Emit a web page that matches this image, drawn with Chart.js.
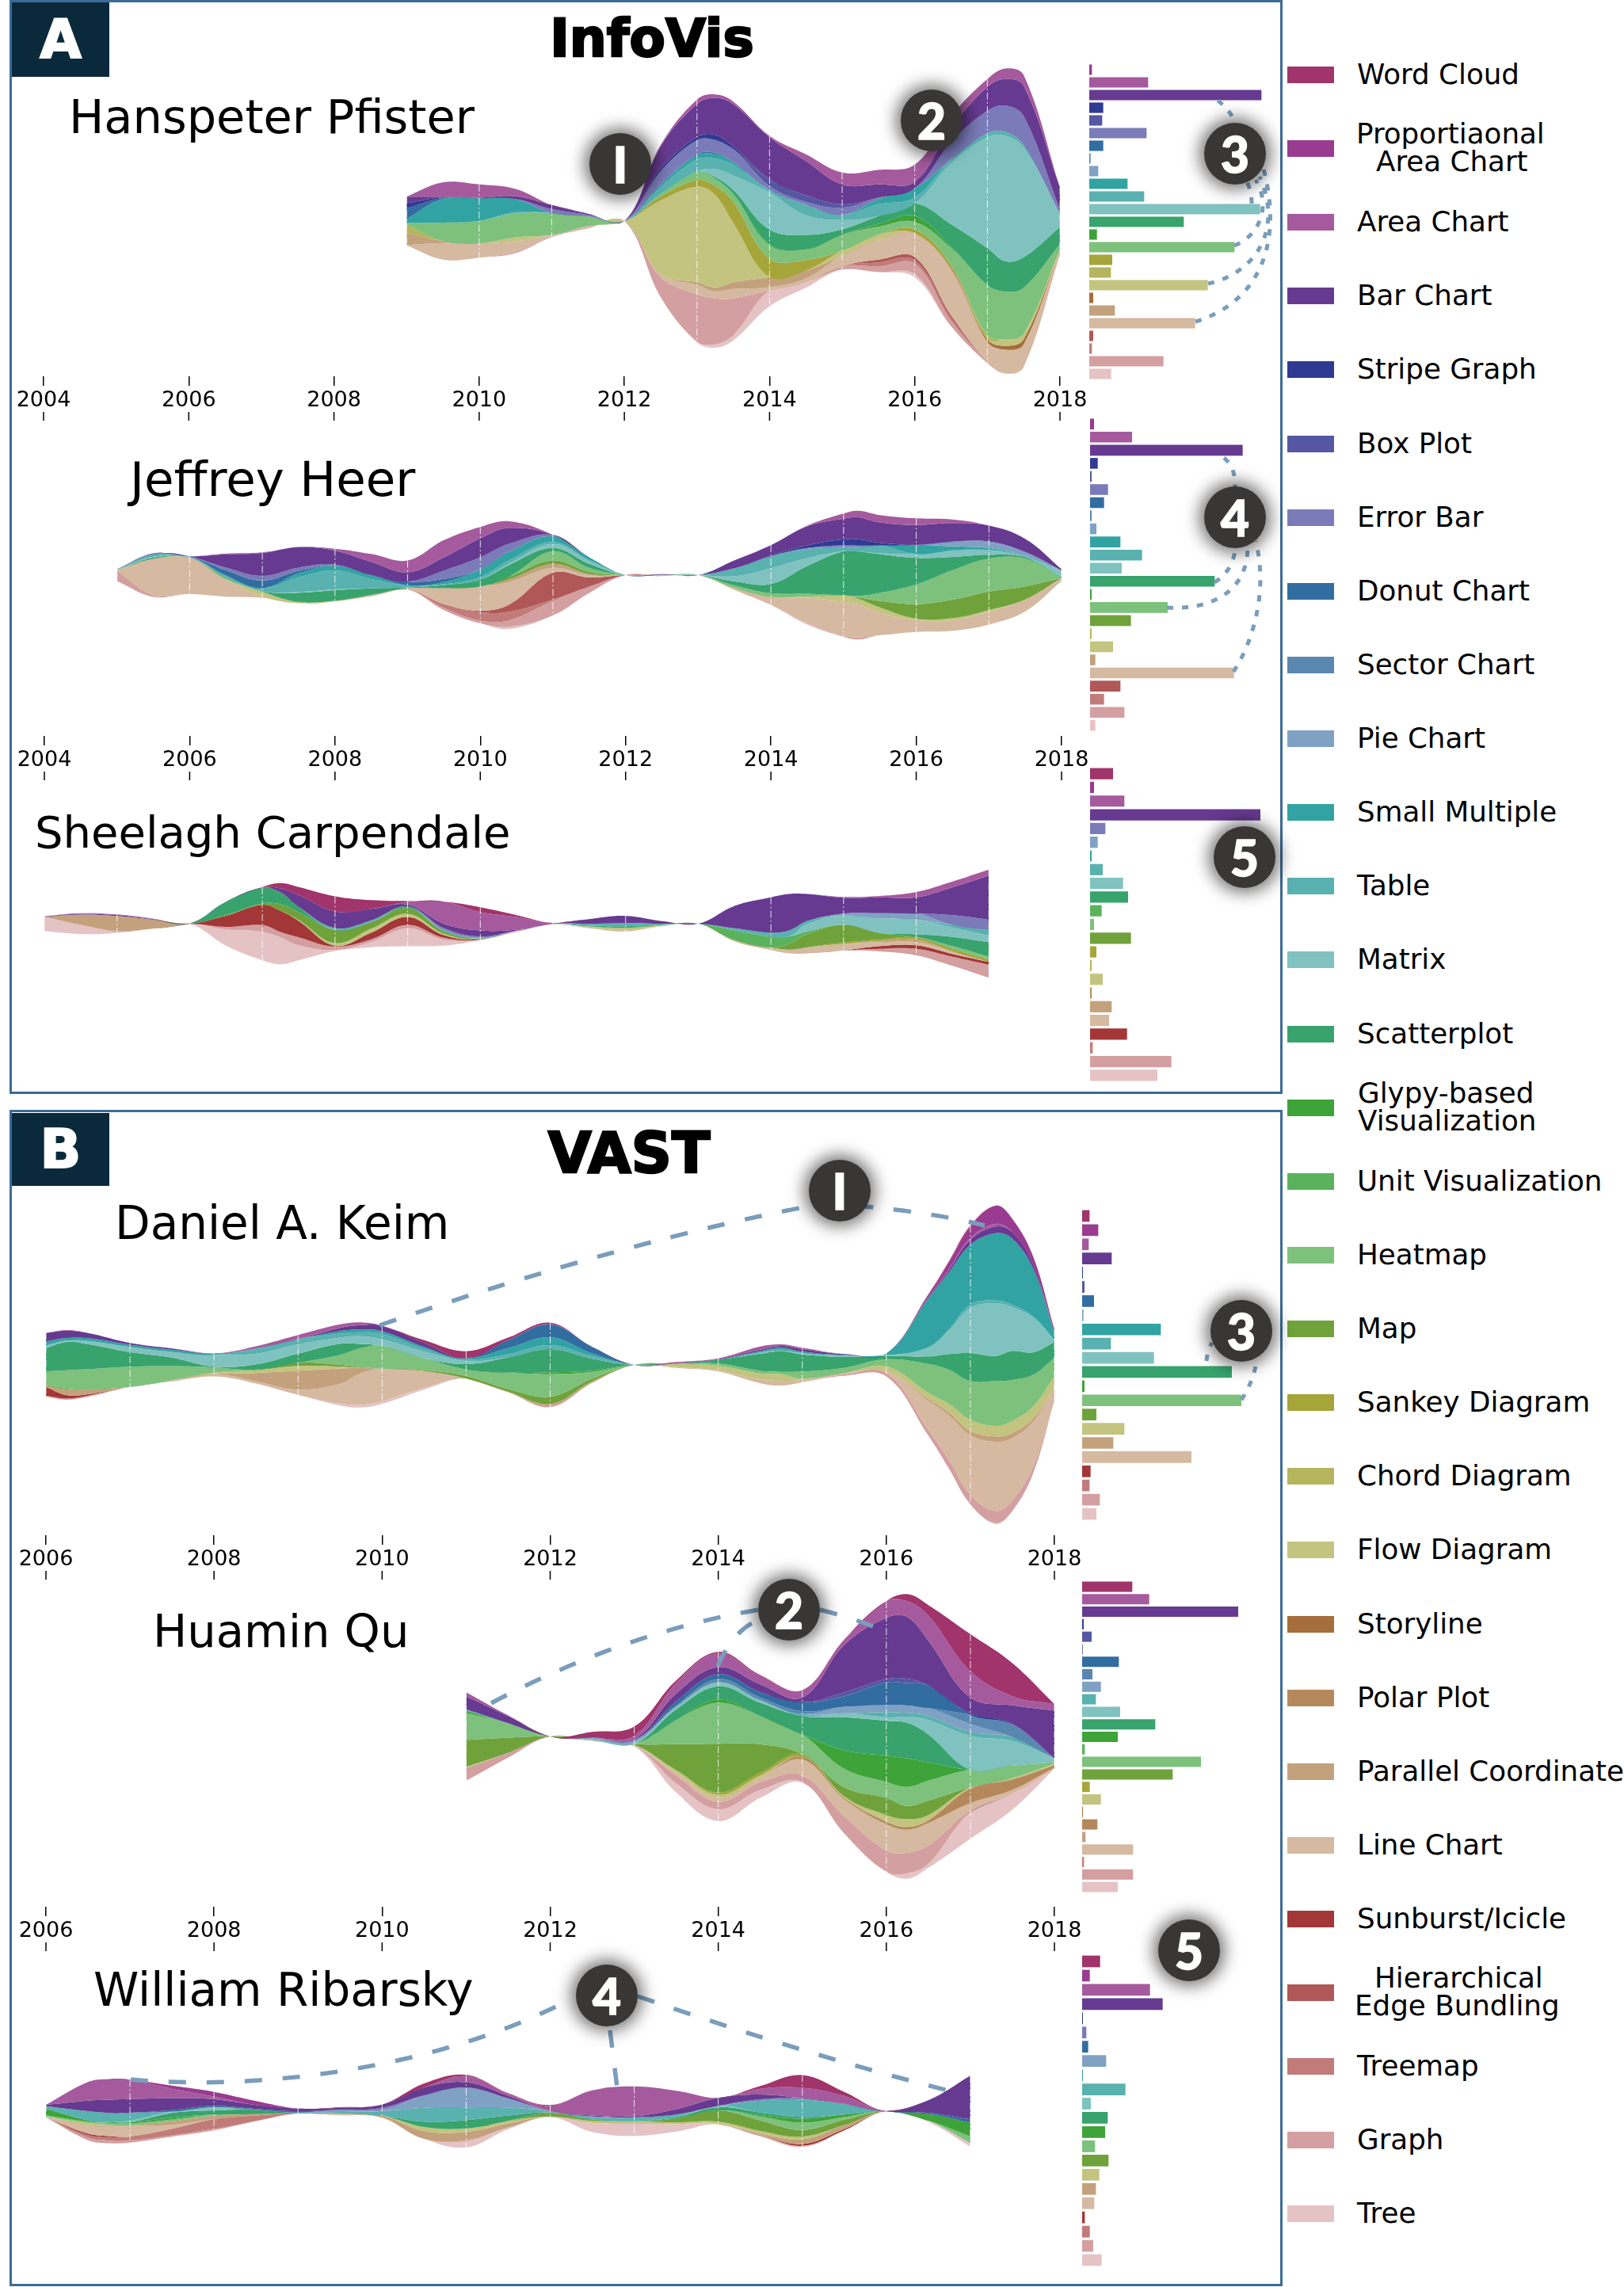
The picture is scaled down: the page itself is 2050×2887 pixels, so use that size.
<!DOCTYPE html>
<html>
<head>
<meta charset="utf-8">
<title>InfoVis / VAST</title>
<script src="https://cdn.jsdelivr.net/npm/chart.js@4"></script>
<style>
html,body{margin:0;padding:0;background:#fff}
#page{position:relative;width:2050px;height:2887px;overflow:hidden;font-family:"DejaVu Sans",sans-serif;color:#000}
#page canvas{position:absolute}
.frame{position:absolute;left:12px;width:1601px;border:3px solid #3b6c98;box-sizing:content-box}
.tag{position:absolute;left:15px;width:123px;background:#0a2a3c;color:#fff;font:bold 68px "DejaVu Sans",sans-serif;-webkit-text-stroke:2px #fff;text-align:center}
.title{position:absolute;font:bold 66px "DejaVu Sans",sans-serif;-webkit-text-stroke:2.5px #000;transform:translate(-50%,-50%);white-space:nowrap}
.name{position:absolute;transform:translateY(-50%);white-space:nowrap}
.badge{position:absolute;width:78px;height:78px;margin:-39px 0 0 -39px;border-radius:50%;background:#383735;color:#fff;
  font:900 62px/78px Lato,sans-serif;-webkit-text-stroke:1.5px #fff;text-align:center;box-shadow:0 0 20px 6px rgba(0,0,0,.55)}
.swatch{position:absolute;left:1625px;width:59px;height:21px;margin-top:-10px}
.label{position:absolute;font-size:35.7px;line-height:35px;white-space:nowrap;transform:translateY(-50%)}
svg{position:absolute;left:0;top:0}
</style>
</head>
<body>
<div id="page"></div>
<script>
const categories = ['Word Cloud','Proportiaonal\nArea Chart','Area Chart','Bar Chart','Stripe Graph','Box Plot','Error Bar','Donut Chart','Sector Chart','Pie Chart','Small Multiple','Table','Matrix','Scatterplot','Glypy-based\nVisualization','Unit Visualization','Heatmap','Map','Sankey Diagram','Chord Diagram','Flow Diagram','Storyline','Polar Plot','Parallel Coordinate','Line Chart','Sunburst/Icicle','Hierarchical\nEdge Bundling','Treemap','Graph','Tree'];
const layerColors = ['#a0346b','#993b90','#a55a9e','#663a90','#2f3a93','#5557a3','#7a7bb8','#326da1','#5a87b0','#7fa1c4','#32a3a3','#59b1b0','#7fc2bf','#38a36c','#3ea338','#5ab35c','#7dc17c','#70a23b','#a5a53a','#b4b55c','#c3c47f','#a56e3a','#b5885c','#c4a17d','#d5b9a0','#a33636','#b05857','#c17b79','#d49fa0','#e5c3c5'];
const tickYears = [2004,2006,2008,2010,2012,2014,2016,2018];

// bar lengths, same order as categories
const pfisterBars = [0,10,223,652,53,49,217,53,5,34,145,208,647,358,29,0,550,0,87,82,449,15,0,97,401,0,15,10,281,83];
const heerBars = [0,15,159,578,29,6,68,53,6,24,115,197,120,472,6,0,294,155,0,6,87,0,0,20,545,0,115,53,130,20];
const carpendaleBars = [87,15,130,645,0,0,58,0,0,29,6,48,125,144,0,44,15,155,24,6,48,0,6,82,72,140,0,10,308,255];
const keimBars = [28,61,25,112,3,9,0,45,0,5,298,109,272,567,9,0,603,54,0,0,160,0,0,118,414,32,0,28,67,54];
const quBars = [190,0,254,591,6,36,3,139,39,71,0,52,144,277,135,10,450,343,29,0,71,3,58,13,193,0,0,7,193,135];
const ribarskyBars = [68,29,257,305,3,0,16,23,0,91,3,164,33,97,87,0,49,100,0,0,65,0,0,52,46,10,0,29,42,74];

// stream layers: one row per year, columns follow the *Cats index lists
const pfisterYears = [2009,2009.5,2010,2010.5,2011,2011.5,2012,2012.5,2013,2013.25,2013.5,2014,2014.5,2015,2015.5,2016,2016.5,2017,2017.25,2017.5,2018];
const pfisterCats = [2,3,4,5,6,7,10,11,12,13,14,16,18,19,20,21,23,24,26,27,28,29];
const pfisterRows = [
  [0,25,20,0,0,40,15,0,0,0,0,5,0,32,0,0,46,2,0,0,0,0],
  [54,3,2,0,0,3,90,0,0,0,0,70,0,0,0,0,7,63,0,0,0,0],
  [50,2,0,0,0,0,86,0,0,0,0,85,0,0,0,0,0,54,0,0,0,0],
  [28,10,0,0,0,0,50,5,0,0,0,90,0,0,15,0,0,40,0,0,5,0],
  [0,15,0,0,15,0,0,0,0,0,0,83,0,0,0,0,0,5,0,0,3,0],
  [0,4,0,0,6,0,0,0,0,0,0,36,0,0,0,0,0,6,0,0,3,0],
  [0,0,0,0,0,0,0,0,0,0,0,0,0,0,0,0,0,0,0,0,0,0],
  [5,85,10,0,50,0,10,25,0,0,0,10,15,0,280,0,0,10,0,0,76,0],
  [17,125,12,0,53,5,15,45,0,0,0,32,26,0,362,0,10,35,0,0,180,3],
  [13,140,20,0,48,5,17,40,30,6,0,27,35,0,350,0,15,27,0,0,173,13],
  [10,160,10,0,50,0,10,40,55,15,0,30,80,0,225,0,25,35,0,0,140,20],
  [5,160,0,25,15,0,0,10,140,55,5,50,70,0,0,0,38,12,0,0,0,60],
  [25,130,0,25,10,0,0,40,75,55,0,40,40,0,0,0,30,15,0,0,0,20],
  [45,75,0,13,27,0,0,20,35,20,0,60,0,0,20,0,0,40,0,0,12,0],
  [55,50,0,0,5,0,20,45,0,30,10,30,0,0,20,0,0,75,10,15,22,0],
  [65,25,0,0,0,0,35,22,0,48,22,28,15,0,0,0,0,90,13,12,40,12],
  [45,55,0,0,65,0,0,15,230,85,5,65,10,0,0,5,0,175,10,10,21,0],
  [30,90,0,0,85,0,0,15,420,140,0,190,0,15,0,10,0,75,0,0,5,0],
  [40,100,0,0,100,0,0,15,475,115,0,180,0,0,25,15,0,90,0,0,0,0],
  [40,115,0,0,110,0,0,10,415,115,0,175,0,0,20,20,0,85,0,0,0,0],
  [0,85,0,0,15,0,0,0,50,65,0,20,0,0,0,0,0,20,0,0,0,0]
];

const heerYears = [2005,2005.5,2006,2006.5,2007,2007.5,2008,2008.5,2009,2009.5,2010,2010.4,2011,2011.5,2012,2012.5,2013,2013.5,2014,2014.5,2015,2015.2,2015.5,2016,2016.5,2017,2017.5,2018];
const heerCats = [2,3,4,6,7,9,10,11,12,13,16,17,20,23,24,26,27,28,29];
const heerRows = [
  [0,0,0,0,0,0,0,3,0,0,0,0,0,0,2,0,0,40,0],
  [0,3,0,0,0,0,0,10,3,5,0,0,0,0,137,0,0,7,0],
  [0,1,0,0,0,0,0,3,0,1,1,0,0,0,136,0,0,0,0],
  [3,50,0,10,20,0,0,5,0,5,5,0,0,0,65,0,0,0,0],
  [2,87,0,18,28,0,0,12,0,2,0,0,18,0,5,0,0,0,0],
  [0,78,0,12,10,0,15,55,3,35,0,0,5,0,0,0,0,0,0],
  [7,53,0,4,0,0,18,72,3,40,0,0,3,0,0,0,0,0,0],
  [30,50,0,0,0,0,15,35,0,25,0,0,0,0,5,0,0,0,0],
  [45,35,0,0,14,0,0,8,0,3,0,0,0,0,6,0,0,0,0],
  [65,50,0,32,12,0,8,3,0,12,0,0,0,0,60,0,15,8,0],
  [43,72,0,45,0,0,30,10,0,25,0,0,0,0,92,6,32,10,0],
  [25,60,0,30,0,0,32,13,5,45,0,10,0,10,85,28,32,25,8],
  [0,0,0,5,0,0,22,8,15,12,35,13,0,15,18,102,5,55,0],
  [0,0,0,0,0,0,10,5,10,15,15,8,0,5,8,35,0,24,0],
  [0,0,0,0,0,0,0,0,0,0,0,0,0,0,0,0,0,0,0],
  [0,2,0,0,1,0,0,0,0,0,0,0,0,2,2,0,0,0,0],
  [0,0,0,0,0,0,0,0,0,0,0,0,0,0,0,0,0,0,0],
  [0,30,0,0,0,0,0,30,20,15,10,0,0,0,7,0,0,0,0],
  [0,40,2,0,0,0,0,45,60,35,15,0,0,0,28,0,0,2,0],
  [3,72,10,3,0,0,0,35,30,105,10,0,5,0,95,0,0,3,4],
  [20,78,22,7,0,0,0,16,0,167,0,0,25,0,128,0,0,4,0],
  [25,83,24,5,0,0,0,18,0,168,5,5,22,0,125,0,0,8,0],
  [28,77,10,0,0,0,0,30,3,147,30,25,20,0,85,0,0,0,0],
  [25,75,0,0,0,0,35,0,15,100,75,55,5,0,45,0,0,0,0],
  [14,70,0,0,0,18,15,0,25,50,112,70,8,0,40,0,0,0,0],
  [0,60,0,0,0,25,7,0,18,15,125,70,5,0,50,0,0,0,0],
  [0,50,0,0,0,15,0,5,0,5,105,50,0,0,45,0,0,0,0],
  [0,5,0,0,0,0,0,0,25,3,0,0,0,0,12,0,0,0,0]
];

const carpendaleYears = [2004,2004.5,2005,2005.5,2006,2006.5,2007,2007.25,2007.5,2008,2008.5,2009,2009.5,2010,2010.5,2011,2011.5,2012,2012.5,2013,2013.5,2014,2014.25,2014.5,2015,2015.5,2016,2016.5,2017];
const carpendaleCats = [0,2,3,6,9,11,12,13,15,16,17,18,20,23,24,25,27,28,29];
const carpendaleRows = [
  [0,0,2,0,0,0,0,0,0,0,0,0,0,0,0,0,0,0,54],
  [0,2,3,0,0,0,0,0,0,0,0,0,0,39,0,0,0,0,35],
  [0,2,4,0,0,0,0,0,0,0,0,0,0,56,0,0,2,0,6],
  [0,2,2,0,0,0,0,0,0,0,0,0,0,34,0,0,0,0,0],
  [0,0,1,0,0,0,0,0,0,0,0,0,0,1,0,0,0,0,1],
  [0,0,0,0,0,0,0,50,0,0,3,0,0,0,0,42,0,10,61],
  [2,0,0,0,0,0,0,60,0,0,5,0,0,0,0,77,0,25,108],
  [20,0,15,0,0,0,0,45,0,0,25,0,0,0,0,80,0,20,102],
  [30,0,45,0,0,0,0,20,0,0,30,0,3,0,0,62,0,30,57],
  [57,0,63,0,0,7,0,0,0,0,50,0,10,0,0,3,0,13,4],
  [33,0,43,0,0,7,0,0,0,0,25,0,15,0,0,25,0,10,20],
  [3,10,7,0,0,0,0,8,0,0,20,0,12,0,0,30,0,13,68],
  [0,84,16,7,0,5,0,0,0,0,10,0,5,0,0,10,0,7,23],
  [18,70,23,5,0,3,0,0,0,0,2,0,0,0,0,2,0,0,2],
  [7,48,4,0,0,0,0,0,0,0,0,0,0,0,0,0,0,0,6],
  [0,3,1,0,0,0,0,0,0,0,0,0,0,0,0,0,0,0,2],
  [0,0,18,0,0,7,0,3,0,0,0,0,4,0,3,0,0,0,0],
  [0,0,27,0,0,12,0,6,0,0,0,0,9,0,5,0,0,0,0],
  [0,0,10,0,0,3,0,2,0,0,0,0,3,0,2,0,0,0,0],
  [0,0,0,0,0,0,0,0,0,0,0,0,0,0,0,0,0,0,0],
  [0,0,85,0,0,8,0,0,37,0,0,0,0,0,5,0,0,0,0],
  [0,0,134,0,0,15,0,0,41,0,0,0,4,0,6,0,0,0,0],
  [0,0,138,0,0,23,0,0,27,0,23,0,0,0,14,0,0,0,0],
  [0,0,102,0,0,12,28,0,10,0,50,0,0,0,23,0,0,0,0],
  [0,3,60,0,8,0,34,0,0,0,68,5,0,0,25,0,0,0,0],
  [0,5,60,0,20,0,55,0,0,0,25,5,0,5,15,10,0,10,0],
  [0,20,62,0,23,0,55,10,0,0,2,8,0,10,12,13,0,25,0],
  [0,22,106,37,0,10,35,35,0,10,0,10,0,0,10,10,0,35,0],
  [0,23,167,40,0,20,25,55,0,10,0,10,0,0,0,10,0,50,0]
];

const keimYears = [2006,2006.25,2006.5,2007,2007.5,2008,2008.5,2009,2009.5,2009.75,2010,2010.5,2011,2011.5,2012,2012.5,2013,2013.5,2014,2014.5,2014.75,2015,2015.5,2016,2016.5,2016.75,2017,2017.3,2017.5,2017.75,2018];
const keimCats = [0,1,2,3,7,10,11,12,13,14,16,17,20,23,24,25,28,29];
const keimRows = [
  [0,0,0,32,0,15,0,10,88,0,52,3,0,4,0,33,5,0],
  [0,0,2,28,0,10,0,5,107,0,70,4,0,21,0,12,5,0],
  [0,0,0,20,0,10,0,12,95,0,77,0,0,18,0,5,5,0],
  [0,0,0,7,0,8,0,20,55,0,77,0,0,0,0,0,0,0],
  [0,0,0,5,0,8,0,22,32,0,53,0,0,0,5,0,0,0],
  [0,0,0,0,0,5,0,45,3,0,20,0,5,0,9,0,0,0],
  [0,0,8,0,0,0,20,40,20,0,0,3,10,32,8,0,0,0],
  [0,0,15,0,0,0,20,35,35,0,0,12,18,72,19,0,0,0],
  [0,0,13,12,0,10,15,23,42,0,38,7,7,58,75,0,0,7],
  [0,0,10,17,0,10,15,30,15,0,73,2,0,20,120,0,0,10],
  [0,0,0,20,0,10,20,25,0,0,87,0,0,0,123,0,0,10],
  [10,0,0,15,0,8,10,25,0,0,45,4,0,0,63,0,0,7],
  [27,0,0,0,0,5,5,12,20,0,25,10,0,0,0,0,0,0],
  [10,0,0,0,30,23,12,0,58,0,62,10,0,2,0,0,0,0],
  [5,0,0,2,48,30,15,0,88,7,85,28,0,7,0,0,5,0],
  [0,0,0,0,25,10,10,0,45,5,25,10,0,5,0,0,2,0],
  [0,0,0,0,0,0,0,0,0,0,0,0,0,0,0,0,0,0],
  [0,0,5,0,0,0,0,0,2,0,0,0,12,0,3,0,0,0],
  [0,0,3,2,0,0,0,0,15,0,8,0,18,0,4,0,0,0],
  [0,0,12,5,0,5,0,5,65,0,10,0,22,0,15,0,0,0],
  [0,0,6,7,0,7,6,0,78,0,9,0,25,0,18,0,0,0],
  [0,0,5,10,0,5,0,5,65,0,27,0,5,0,8,0,0,0],
  [0,0,0,3,0,3,0,5,41,0,20,0,0,0,5,0,5,0],
  [0,0,0,0,0,7,0,2,13,0,27,0,20,0,5,0,13,0],
  [4,8,0,4,0,185,0,35,28,0,110,0,22,8,110,0,22,0],
  [5,25,3,10,0,215,6,90,60,0,130,0,32,12,170,0,33,0],
  [5,42,7,19,0,226,14,170,106,0,146,0,42,17,226,0,36,0],
  [0,69,10,25,0,255,10,200,95,0,170,0,40,20,262,0,46,4],
  [0,50,0,25,0,250,10,165,110,0,155,0,45,20,235,0,41,0],
  [0,30,0,15,0,180,5,130,85,0,120,0,45,12,170,0,24,0],
  [0,10,0,0,0,30,0,8,60,0,70,0,42,0,50,0,0,0]
];

const quYears = [2011,2011.5,2012,2012.5,2013,2013.5,2014,2014.5,2015,2015.5,2016,2016.25,2016.5,2017,2017.5,2018];
const quCats = [0,2,3,4,5,7,8,9,11,12,13,14,16,17,18,20,22,24,27,28,29];
const quRows = [
  [0,15,50,0,0,0,0,0,5,0,0,8,102,102,0,5,0,0,0,48,0],
  [0,3,27,0,0,0,0,0,0,0,0,0,55,57,0,0,0,0,0,18,0],
  [0,0,0,0,0,0,0,0,0,0,0,0,0,0,0,0,0,0,0,0,0],
  [22,0,0,0,0,0,0,6,0,4,0,0,0,0,0,0,0,3,0,0,0],
  [35,13,4,0,0,0,0,10,0,3,0,0,2,3,0,0,0,5,0,0,0],
  [10,40,30,0,0,15,5,0,0,10,40,0,92,98,0,10,0,10,0,30,35],
  [5,53,27,0,0,18,12,0,0,16,50,12,155,185,8,12,0,15,0,28,45],
  [3,32,30,0,0,20,10,0,0,10,50,0,107,108,10,10,0,15,0,30,30],
  [0,28,18,0,0,34,10,0,8,0,70,0,75,0,10,0,10,60,0,25,3],
  [0,20,180,0,15,40,0,25,0,15,125,70,70,35,0,5,5,65,0,65,0],
  [0,63,232,0,13,85,0,27,20,13,132,100,60,65,0,25,10,100,0,80,0],
  [27,60,233,0,17,85,0,28,14,23,135,108,72,50,0,30,10,87,0,78,21],
  [40,95,170,0,0,85,0,30,15,55,105,70,75,55,0,20,10,85,0,70,15],
  [140,100,60,5,0,0,35,30,15,128,0,0,67,0,0,5,55,30,5,0,100],
  [125,35,70,2,0,0,48,0,15,93,0,0,47,0,0,5,40,15,0,0,60],
  [0,25,180,0,0,0,0,0,0,15,0,0,5,0,0,6,9,5,0,0,0]
];

const ribarskyYears = [2006,2006.5,2006.75,2007,2007.5,2008,2008.5,2009,2009.5,2010,2010.5,2011,2011.5,2012,2012.5,2013,2013.5,2014,2014.5,2015,2015.5,2016,2016.5,2017];
const ribarskyCats = [0,1,2,3,6,7,9,11,12,13,14,16,17,20,23,24,25,27,28,29];
const ribarskyRows = [
  [0,0,0,5,0,0,0,10,0,0,25,5,0,0,0,3,0,0,0,0],
  [0,0,70,40,0,0,0,35,0,0,5,5,0,8,0,32,5,10,10,0],
  [0,0,78,50,0,0,0,35,0,0,3,7,0,0,5,38,4,13,10,0],
  [0,0,73,52,0,0,0,30,5,0,5,8,0,0,0,42,0,15,8,0],
  [0,12,36,45,0,5,0,0,5,18,7,7,0,0,13,15,0,25,5,0],
  [0,18,10,25,0,5,0,0,12,16,0,4,0,0,13,0,0,37,6,0],
  [0,15,0,15,0,3,0,0,0,17,0,0,0,0,5,0,0,20,2,0],
  [0,0,0,10,0,5,0,3,0,0,0,0,0,0,0,0,0,0,2,0],
  [2,0,0,8,0,0,8,6,0,0,0,0,0,0,0,6,0,0,0,0],
  [0,0,0,12,8,0,5,17,0,0,0,0,0,0,8,0,0,0,0,0],
  [15,0,0,30,0,0,47,53,0,20,0,0,0,15,30,0,0,0,0,0],
  [5,0,23,20,0,0,75,48,0,32,0,0,0,13,32,0,0,0,3,24],
  [2,0,8,10,0,0,35,30,0,20,0,0,0,10,15,0,0,0,0,7],
  [3,0,20,0,0,0,0,5,0,2,0,0,13,0,0,0,0,0,0,3],
  [0,0,95,4,0,0,2,9,0,0,0,0,5,8,0,0,0,0,0,34],
  [0,0,113,4,0,0,0,15,0,0,0,0,0,10,0,0,0,0,0,46],
  [0,0,70,20,0,0,0,10,0,5,0,0,15,7,0,0,0,0,0,28],
  [0,0,0,30,0,0,0,0,5,12,0,0,43,7,0,3,0,0,0,0],
  [10,0,22,18,5,0,0,45,0,10,5,15,40,10,5,0,0,0,5,0],
  [48,0,40,0,5,0,0,65,0,7,15,28,25,10,18,0,7,0,0,5],
  [15,0,30,0,0,0,0,40,0,0,10,10,20,0,15,0,5,0,0,0],
  [0,0,0,1,0,0,0,0,0,0,0,0,0,0,0,0,0,0,0,0],
  [0,0,0,47,0,5,0,0,0,0,25,0,0,0,0,0,0,0,0,5],
  [0,0,0,165,0,13,0,0,0,0,52,25,0,0,0,0,0,0,0,13]
];

const page = document.getElementById('page');

function addEl(cls, css, text){
  const el = document.createElement('div');
  el.className = cls;
  el.style.cssText = css;
  if(text) el.textContent = text;
  page.appendChild(el);
  return el;
}

function addCanvas(left, top, width, height){
  const c = document.createElement('canvas');
  c.width = width; c.height = height;
  c.style.cssText = `left:${left}px;top:${top}px;width:${width}px;height:${height}px`;
  page.appendChild(c);
  return c;
}

// dash-dot year lines inside the stream, and the short tick under each label
const streamMarks = {
  id:'streamMarks',
  afterDatasetsDraw(chart, args, opts){
    const {ctx, scales:{x, y}} = chart;
    ctx.save();
    ctx.strokeStyle = 'rgba(255,255,255,.85)';
    ctx.lineWidth = 1;
    ctx.setLineDash([9,3,2,3]);
    opts.years.forEach((yr, i) => {
      if(!Number.isInteger(yr) || !opts.totals[i]) return;
      const px = x.getPixelForValue(yr);
      ctx.beginPath();
      ctx.moveTo(px, y.getPixelForValue(opts.totals[i]/2));
      ctx.lineTo(px, y.getPixelForValue(-opts.totals[i]/2));
      ctx.stroke();
    });
    ctx.restore();
  },
  afterDraw(chart, args, opts){
    if(!opts.axis) return;
    const {ctx, scales:{x}, chartArea} = chart;
    ctx.save();
    ctx.strokeStyle = '#000';
    ctx.lineWidth = 1.5;
    tickYears.forEach(yr => {
      if(yr < x.min || yr > x.max) return;
      const px = x.getPixelForValue(yr);
      ctx.beginPath();
      ctx.moveTo(px, chartArea.bottom + 45);
      ctx.lineTo(px, chartArea.bottom + 56);
      ctx.stroke();
    });
    ctx.restore();
  }
};

const UNITS_PER_PX = 3;
const AXIS_H = 60;
const SIDE = 45;

function streamChart(years, cats, rows, box){
  const plotH = box.half*2;
  const height = plotH + (box.axis ? AXIS_H : 0);
  const canvas = addCanvas(box.x0 - SIDE, box.cy - box.half, box.x1 - box.x0 + SIDE*2, height);
  const totals = rows.map(r => r.reduce((a,b) => a+b, 0));
  const lineBase = {pointRadius:0, borderWidth:0, tension:.38};
  const running = totals.map(t => t/2);
  const datasets = [{...lineBase, label:'top', data:years.map((x,i) => ({x, y:running[i]})), fill:false}];
  cats.forEach((cat, j) => {
    rows.forEach((r, i) => { running[i] -= r[j]; });
    datasets.push({
      ...lineBase,
      label:categories[cat],
      data:years.map((x,i) => ({x, y:running[i]})),
      fill:'-1',
      backgroundColor:layerColors[cat],
      borderColor:layerColors[cat]
    });
  });
  return new Chart(canvas, {
    type:'line',
    data:{datasets},
    plugins:[streamMarks],
    options:{
      responsive:false,
      animation:false,
      layout:{autoPadding:false, padding:{left:SIDE, right:SIDE, top:0, bottom:0}},
      plugins:{
        legend:{display:false},
        tooltip:{enabled:false},
        streamMarks:{years, totals, axis:box.axis}
      },
      scales:{
        x:{
          type:'linear',
          display:box.axis,
          min:box.min,
          max:box.max,
          border:{display:false},
          grid:{drawOnChartArea:false, drawTicks:true, tickLength:12, color:'#000', lineWidth:1.5},
          afterBuildTicks(scale){ scale.ticks = tickYears.filter(v => v >= box.min).map(value => ({value})); },
          afterFit(scale){ if(box.axis) scale.height = AXIS_H; },
          ticks:{
            color:'#000',
            padding:3,
            maxRotation:0,
            autoSkip:false,
            font:{family:'"DejaVu Sans"', size:27},
            callback:v => String(v)
          }
        },
        y:{display:false, min:-plotH*UNITS_PER_PX/2, max:plotH*UNITS_PER_PX/2}
      }
    }
  });
}

function barChart(values, box){
  const kept = values.map((v,i) => [v,i]).filter(p => p[0] > 0);
  const canvas = addCanvas(box.x, box.top, 240, box.height);
  return new Chart(canvas, {
    type:'bar',
    data:{
      labels:kept.map(p => categories[p[1]].replace('\n',' ')),
      datasets:[{
        data:kept.map(p => p[0]),
        backgroundColor:kept.map(p => layerColors[p[1]]),
        barPercentage:.82,
        categoryPercentage:1
      }]
    },
    options:{
      indexAxis:'y',
      responsive:false,
      animation:false,
      layout:{padding:0},
      plugins:{legend:{display:false}, tooltip:{enabled:false}},
      scales:{
        x:{display:false, min:0, max:240*UNITS_PER_PX},
        y:{display:false}
      }
    }
  });
}

// frames and headings
addEl('frame','top:0;height:1375px');
addEl('frame','top:1401px;height:1479px');
addEl('tag','top:3px;height:94px;line-height:94px','A');
addEl('tag','top:1405px;height:92px;line-height:92px','B');
addEl('title','left:823px;top:48px','InfoVis');
addEl('title','left:794px;top:1455px;font-size:71px','VAST');

addEl('name','left:87px;top:147px;font-size:59px','Hanspeter Pfister');
addEl('name','left:164px;top:604px;font-size:61px','Jeffrey Heer');
addEl('name','left:44px;top:1050px;font-size:56px','Sheelagh Carpendale');
addEl('name','left:145px;top:1544px;font-size:58px','Daniel A. Keim');
addEl('name','left:193px;top:2059px;font-size:57.5px','Huamin Qu');
addEl('name','left:118px;top:2512px;font-size:58px','William Ribarsky');

// streams
streamChart(pfisterYears, pfisterCats, pfisterRows, {x0:54.5, x1:1338, min:2004, max:2018, cy:279, half:196, axis:true});
streamChart(heerYears, heerCats, heerRows, {x0:55.7, x1:1340, min:2004, max:2018, cy:726, half:203, axis:true});
streamChart(carpendaleYears, carpendaleCats, carpendaleRows, {x0:55.7, x1:1340, min:2004, max:2018, cy:1166, half:100, axis:false});
streamChart(keimYears, keimCats, keimRows, {x0:57.5, x1:1330.5, min:2006, max:2018, cy:1723, half:215, axis:true});
streamChart(quYears, quCats, quRows, {x0:57.5, x1:1330.5, min:2006, max:2018, cy:2192, half:215, axis:true});
streamChart(ribarskyYears, ribarskyCats, ribarskyRows, {x0:57.5, x1:1330.5, min:2006, max:2018, cy:2665, half:100, axis:false});

// bars
barChart(pfisterBars, {x:1375, top:79.7, height:400});
barChart(heerBars, {x:1375.7, top:527.4, height:397});
barChart(carpendaleBars, {x:1375.7, top:968, height:398});
barChart(keimBars, {x:1366, top:1526, height:394});
barChart(quBars, {x:1366, top:1995.4, height:395});
barChart(ribarskyBars, {x:1366, top:2467, height:395});

// legend
const LEGEND_TOP = 94, LEGEND_STEP = 93.12;
const legendLeft = {1:1712, 14:1714, 26:1735};
categories.forEach((name, i) => {
  const y = LEGEND_TOP + i*LEGEND_STEP;
  addEl('swatch', `top:${y}px;background:${layerColors[i]}`);
  const lab = addEl('label', `left:${legendLeft[i] || 1713}px;top:${y - 1}px`);
  name.split('\n').forEach((line, k) => {
    const d = document.createElement('div');
    d.textContent = line;
    if(i === 1 && k === 1) d.style.marginLeft = '25px';
    if(i === 26 && k === 1) d.style.marginLeft = '-25px';
    lab.appendChild(d);
  });
});

// callout lines
const calloutPaths = [
  'M1537 127 Q1552 137 1559 155',
  'M1580 257 Q1580 240 1572 225',
  'M1558 310 C1590 298 1605 260 1585 227',
  'M1525 358 C1585 345 1620 290 1590 223',
  'M1509 406 C1570 388 1625 330 1595 213',
  'M1545 578 Q1560 590 1559 615',
  'M1533 735 Q1556 722 1560 690',
  'M1473 767 C1525 770 1575 750 1575 690',
  'M1557 848 C1585 805 1600 740 1585 683',
  'M1523 1718 Q1524 1705 1530 1695',
  'M1567 1767 Q1582 1745 1587 1715',
  'M479 1673 Q800 1563 1036 1520',
  'M1080 1522 Q1175 1530 1243 1547',
  'M620 2150 Q790 2060 958 2032',
  'M1035 2032 Q1075 2042 1107 2055',
  'M906 2103 Q925 2060 953 2047',
  'M165 2625 C330 2640 560 2610 723 2522',
  'M805 2520 Q1025 2596 1201 2640',
  'M770 2563 L779 2635'
];
const NS = 'http://www.w3.org/2000/svg';
const svg = document.createElementNS(NS,'svg');
svg.setAttribute('width',2050);
svg.setAttribute('height',2887);
calloutPaths.forEach((d, i) => {
  const p = document.createElementNS(NS,'path');
  p.setAttribute('d', d);
  p.setAttribute('fill','none');
  p.setAttribute('stroke','#7a9dbb');
  p.setAttribute('stroke-width', i < 11 ? 5 : 5.5);
  p.setAttribute('stroke-dasharray', i < 11 ? '8 11' : '22 26');
  svg.appendChild(p);
});
page.appendChild(svg);

// numbered badges
const badgeLabels = ['I','2','3','4','5','I','2','3','5','4'];
const badgeSpots = [[783,207],[1176,152],[1559,194],[1559,653],[1571,1082],[1060,1503],[996,2032],[1567,1680],[1501,2462],[766,2519]];
badgeLabels.forEach((t, i) => {
  addEl('badge', `left:${badgeSpots[i][0]}px;top:${badgeSpots[i][1]}px`, t);
});
</script>
</body>
</html>
